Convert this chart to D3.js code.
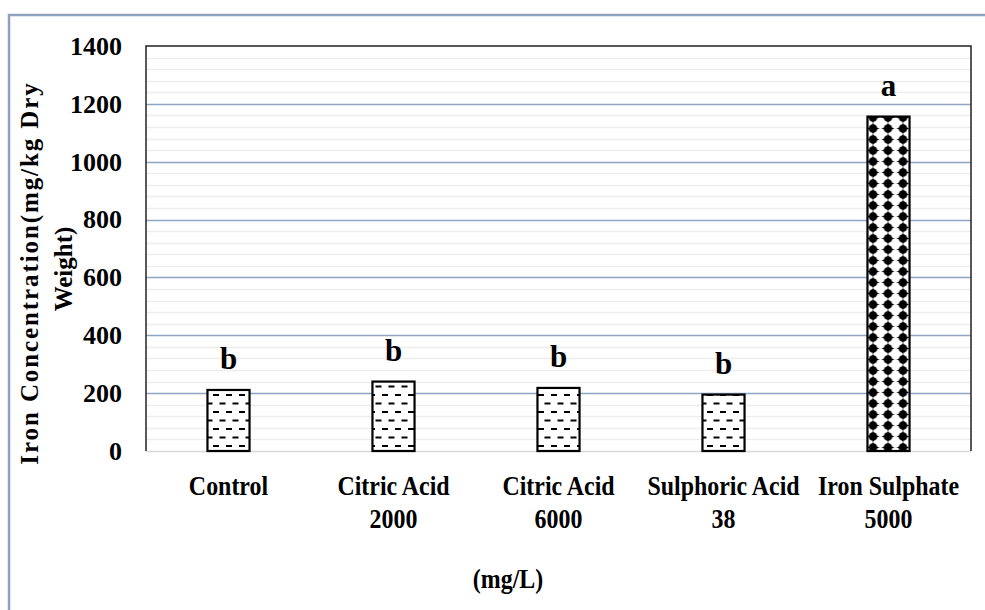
<!DOCTYPE html>
<html>
<head>
<meta charset="utf-8">
<script src="https://cdn.jsdelivr.net/npm/d3@7"></script>
<style>
  body { margin: 0; background: #fff; }
  text { font-family: "Liberation Serif", "Times New Roman", serif; font-weight: bold; fill: #000; }
</style>
</head>
<body>
<div id="chart"></div>
<script>
// data
const categories = ["Control", "Citric Acid 2000", "Citric Acid 6000", "Sulphoric Acid 38", "Iron Sulphate 5000"];
const labelLines = [["Control"], ["Citric Acid", "2000"], ["Citric Acid", "6000"], ["Sulphoric Acid", "38"], ["Iron Sulphate", "5000"]];
const values = [211, 240, 218, 195, 1156];
const letters = ["b", "b", "b", "b", "a"];
const patterns = ["dash", "dash", "dash", "dash", "dots"];
const yTicks = [0, 200, 400, 600, 800, 1000, 1200, 1400];

let options = {
  width: 985,
  height: 610,
  margins: { top: 46, right: 14, bottom: 159, left: 146 }
}

let svg = d3.select("#chart")
            .append("svg")
            .attr("width", options.width)
            .attr("height", options.height);

let defs = svg.append("defs");

// dashed pattern for the first four bars
let dash = defs.append("pattern")
               .attr("id", "dash")
               .attr("patternUnits", "userSpaceOnUse")
               .attr("width", 13)
               .attr("height", 17)
               .attr("x", 4)
               .attr("y", 0);
dash.append("rect").attr("width", 13).attr("height", 17).attr("fill", "#fff");
dash.append("rect").attr("x", 1).attr("y", 3).attr("width", 6).attr("height", 2).attr("fill", "#000");
dash.append("rect").attr("x", 7.5).attr("y", 11.5).attr("width", 6).attr("height", 2).attr("fill", "#000");
dash.append("rect").attr("x", -5.5).attr("y", 11.5).attr("width", 6).attr("height", 2).attr("fill", "#000");

// dotted pattern for the iron sulphate bar
let dots = defs.append("pattern")
               .attr("id", "dots")
               .attr("patternUnits", "userSpaceOnUse")
               .attr("width", 15)
               .attr("height", 11)
               .attr("x", 10.5)
               .attr("y", 2);
dots.append("rect").attr("width", 15).attr("height", 11).attr("fill", "#fff");
dots.append("circle").attr("cx", 7.5).attr("cy", 5.5).attr("r", 4.3).attr("fill", "#000");
dots.append("path").attr("d", "M7.5,-0.6 L9.6,5.5 L7.5,11.6 L5.4,5.5 Z").attr("fill", "#000");
dots.append("path").attr("d", "M0.8,5.5 L7.5,3.4 L14.2,5.5 L7.5,7.6 Z").attr("fill", "#000");

let plotLeft = options.margins.left;
let plotRight = options.width - options.margins.right;
let plotTop = options.margins.top;
let plotBottom = options.height - options.margins.bottom;

let xScale = d3.scaleBand()
               .domain(categories)
               .range([plotLeft, plotRight])
               .paddingInner(0.745)
               .paddingOuter(0.3725);

let yScale = d3.scaleLinear()
               .domain([0, 1400])
               .range([plotBottom, plotTop]);

// outer frame
svg.append("path")
   .attr("d", `M9,${options.height} L9,15 L${options.width},15`)
   .attr("fill", "none")
   .attr("stroke", "#8ea3bf")
   .attr("stroke-width", 2.5);

// minor gridlines
svg.append("g")
   .selectAll("line")
   .data(d3.range(40, 1400, 40).filter(v => v % 200 !== 0))
   .enter()
   .append("line")
   .attr("x1", plotLeft).attr("x2", plotRight)
   .attr("y1", d => Math.round(yScale(d)) + 0.5)
   .attr("y2", d => Math.round(yScale(d)) + 0.5)
   .attr("stroke", "#ededed")
   .attr("stroke-width", 1.5);

// major gridlines
svg.append("g")
   .selectAll("line")
   .data(yTicks.filter(v => v > 0 && v < 1400))
   .enter()
   .append("line")
   .attr("x1", plotLeft).attr("x2", plotRight)
   .attr("y1", d => Math.round(yScale(d)) + 0.5)
   .attr("y2", d => Math.round(yScale(d)) + 0.5)
   .attr("stroke", "#8fa5c2")
   .attr("stroke-width", 1.5);

// baseline
svg.append("line")
   .attr("x1", plotLeft).attr("x2", plotRight)
   .attr("y1", yScale(0) + 0.5).attr("y2", yScale(0) + 0.5)
   .attr("stroke", "#d9d9d9")
   .attr("stroke-width", 1.5);

// plot frame (top, left, right)
svg.append("path")
   .attr("d", `M${plotLeft},${plotBottom} L${plotLeft},${plotTop} L${plotRight},${plotTop} L${plotRight},${plotBottom}`)
   .attr("fill", "none")
   .attr("stroke", "#222")
   .attr("stroke-width", 1.5);

// y axis
let yAxis = svg.append("g")
               .attr("transform", `translate(${plotLeft},0)`)
               .call(d3.axisLeft(yScale).tickValues(yTicks).tickSize(0).tickPadding(24).tickFormat(d3.format("d")));
yAxis.select(".domain").remove();
yAxis.selectAll("text")
     .attr("font-family", "Liberation Serif")
     .attr("font-weight", "bold")
     .style("font-size", "26px")
     .attr("fill", "#000");

// bars
svg.selectAll(".bar")
   .data(values)
   .enter()
   .append("rect")
   .attr("class", "bar")
   .attr("x", (d, i) => xScale(categories[i]))
   .attr("y", d => yScale(d))
   .attr("width", xScale.bandwidth())
   .attr("height", d => yScale(0) - yScale(d))
   .attr("fill", (d, i) => `url(#${patterns[i]})`)
   .attr("stroke", "#000")
   .attr("stroke-width", 2.2);

// significance letters
svg.selectAll(".letter")
   .data(values)
   .enter()
   .append("text")
   .attr("class", "letter")
   .attr("x", (d, i) => xScale(categories[i]) + xScale.bandwidth() / 2)
   .attr("y", d => yScale(d) - 21)
   .attr("text-anchor", "middle")
   .style("font-size", "31px")
   .text((d, i) => letters[i]);

// x category labels
let xLabels = svg.selectAll(".xlabel")
                 .data(labelLines)
                 .enter()
                 .append("g")
                 .attr("class", "xlabel")
                 .attr("transform", (d, i) => `translate(${xScale(categories[i]) + xScale.bandwidth() / 2},495) scale(0.92,1.05)`);
xLabels.selectAll("text")
       .data(d => d)
       .enter()
       .append("text")
       .attr("y", (d, j) => j * 31.5)
       .attr("text-anchor", "middle")
       .style("font-size", "26px")
       .text(d => d);

// x axis title
svg.append("text")
   .attr("transform", "translate(508,588) scale(0.92,1.05)")
   .attr("text-anchor", "middle")
   .style("font-size", "26px")
   .text("(mg/L)");

// y axis title
svg.append("text")
   .attr("transform", "translate(38,273) rotate(-90)")
   .attr("text-anchor", "middle")
   .style("font-size", "25px")
   .style("letter-spacing", "1.9px")
   .text("Iron Concentration(mg/kg Dry");
svg.append("text")
   .attr("transform", "translate(72,269) rotate(-90)")
   .attr("text-anchor", "middle")
   .style("font-size", "25px")
   .text("Weight)");
</script>
</body>
</html>
